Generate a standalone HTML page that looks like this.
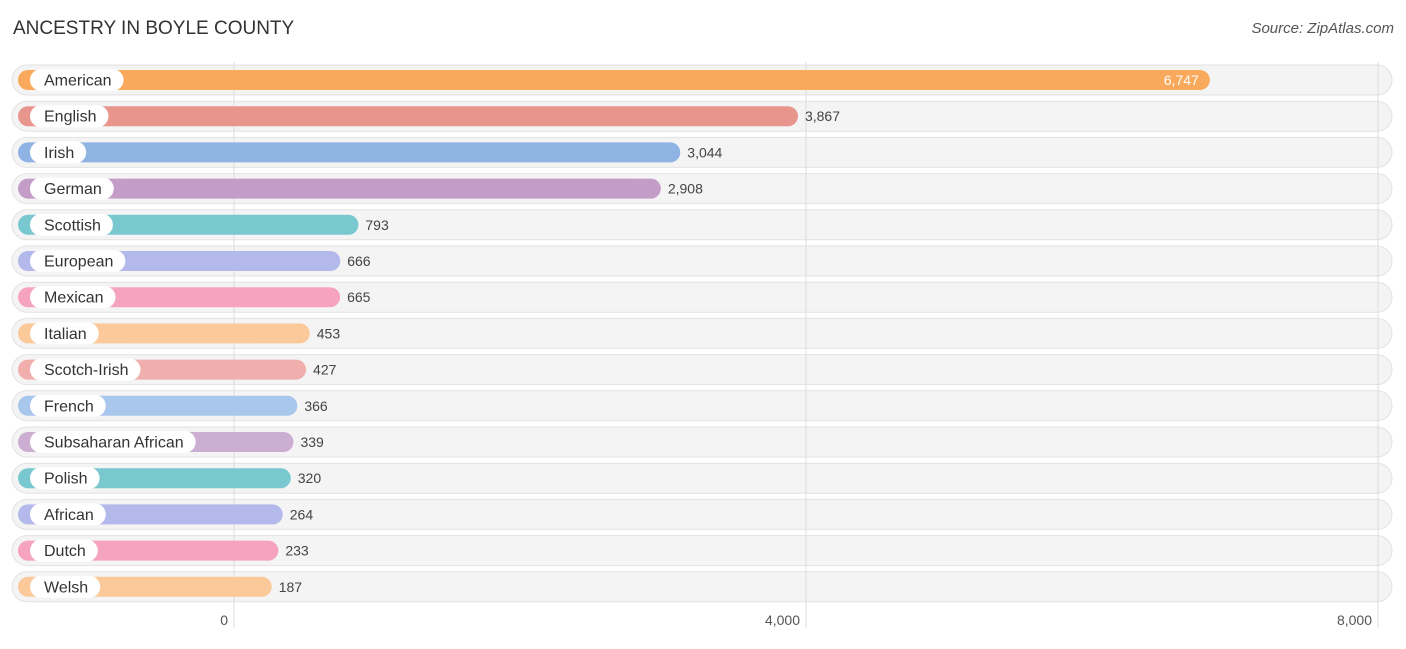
<!DOCTYPE html>
<html><head><meta charset="utf-8"><style>
body{margin:0;background:#fff;font-family:"Liberation Sans",sans-serif;}
svg text{font-family:"Liberation Sans",sans-serif;}
</style></head><body>
<svg width="1406" height="644">
<text x="13" y="34" font-size="19" fill="#333">ANCESTRY IN BOYLE COUNTY</text>
<text x="1394" y="33" font-size="15" fill="#555" font-style="italic" text-anchor="end">Source: ZipAtlas.com</text>
<g id="bgs"></g><g id="grid"></g><g id="rows"></g><g id="ticks"></g>
</svg>
<script>
const categories=["American","English","Irish","German","Scottish","European","Mexican","Italian","Scotch-Irish","French","Subsaharan African","Polish","African","Dutch","Welsh"];
const values=[6747,3867,3044,2908,793,666,665,453,427,366,339,320,264,233,187];
const colors=["#f8a95c","#e8958d","#8fb4e4","#c39dc8","#79c8d0","#b3b9ea","#f5a3bf","#fbc99a","#f0aeac","#a9c6ec","#cdaed3","#79c8d0","#b3b9ea","#f5a3bf","#fbc99a"];
const tickVals=[0,4000,8000];
const tickLabels=["0","4,000","8,000"];
const NS="http://www.w3.org/2000/svg";
const x0=234,x1=1378,maxV=8000;
const xs=v=>x0+v/maxV*(x1-x0);
const ys=i=>80+i*36.2;
function mk(t,a,p){const e=document.createElementNS(NS,t);for(const k in a)e.setAttribute(k,a[k]);p.appendChild(e);return e;}
const bgs=document.getElementById('bgs'),grid=document.getElementById('grid'),rows=document.getElementById('rows'),ticks=document.getElementById('ticks');
tickVals.forEach((v,i)=>{
 const l=mk('line',{x1:xs(v),x2:xs(v),y1:62,y2:628,stroke:'#ddd','stroke-width':1},grid);
 
 
 const t=mk('text',{x:xs(v)-6,y:625,'font-size':14,fill:'#555','text-anchor':'end'},ticks);
 t.textContent=tickLabels[i];
 
 
});
categories.forEach((c,i)=>{
 const y=ys(i);
 const bg=mk('rect',{x:12,y:y-15,width:1380,height:30,rx:15,fill:'#f4f4f4',stroke:'#e2e2e2'},bgs);
 
 
 const g=mk('g',{},rows);
 
 
 const end=xs(values[i])+11;
 const b=mk('rect',{x:18,y:y-10,width:end-18,height:20,rx:10,fill:colors[i]},g);
 
 
 const p=mk('rect',{x:30,y:y-11,width:60,height:22,rx:11,fill:'#fff'},g);
 
 
 const t=mk('text',{x:44,y:y+5.5,'font-size':16,fill:'#333'},g);
 t.textContent=c;
 
 
 p.setAttribute('width',t.getComputedTextLength()+26);
 const inside=i==0;
 const v=mk('text',{x:inside?end-11:end+7,y:y+5,'font-size':14,fill:inside?'#fff':'#444','text-anchor':inside?'end':'start'},g);
 v.textContent=values[i].toLocaleString('en-US');
 
 
});
</script>
</body></html>
